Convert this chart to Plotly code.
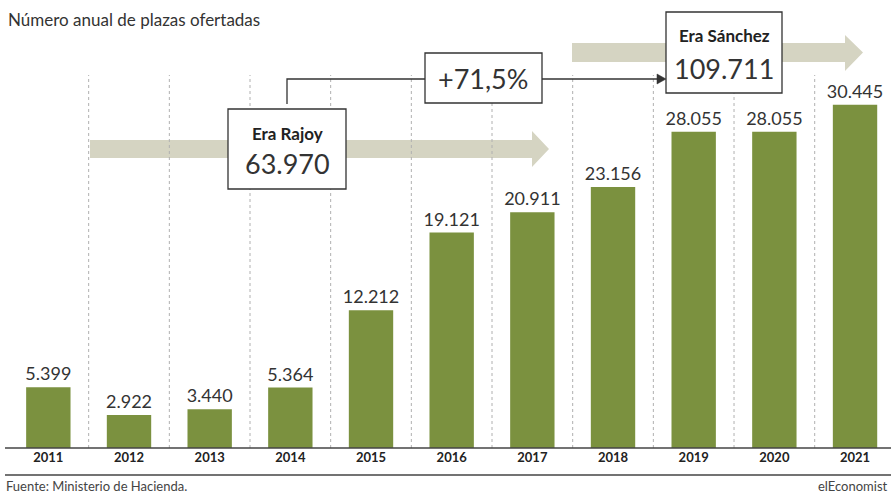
import plotly.graph_objects as go

# ---- data ----
years = ["2011", "2012", "2013", "2014", "2015", "2016", "2017", "2018", "2019", "2020", "2021"]
plazas = [5399, 2922, 3440, 5364, 12212, 19121, 20911, 23156, 28055, 28055, 30445]
subtitle = "Número anual de plazas ofertadas"
source = "Fuente: Ministerio de Hacienda."
brand = "elEconomist"
era_rajoy_label = "Era Rajoy"
era_rajoy_total = 63970
era_sanchez_label = "Era Sánchez"
era_sanchez_total = 109711
change_label = "+71,5%"

def es_num(v):
    return f"{v:,}".replace(",", ".")

# ---- geometry helpers (figure pixels -> paper) ----
W, H = 891, 494
ML, MR, MT, MB = 8, 0, 0, 46
PW, PH = W - ML - MR, H - MT - MB
YMAX = 39750

def px(x):
    return (x - ML) / PW

def py(y):
    return (H - MB - y) / PH

BAR = "#7b913f"
BEIGE = "#d5d4c2"
DARK = "#333333"
FONT = "Lato"

fig = go.Figure()
fig.add_trace(go.Bar(
    x=list(range(len(years))),
    y=plazas,
    width=0.55,
    marker=dict(color=BAR, line=dict(width=0)),
    text=[es_num(v) for v in plazas],
    textposition="outside",
    constraintext="none",
    textfont=dict(family=FONT, size=18, color=DARK),
    cliponaxis=False,
    hoverinfo="skip",
))

shapes = []
# dotted separators between years
grid_top = (H - MB - 75) / PH * YMAX
for i in range(len(years) - 1):
    shapes.append(dict(type="line", xref="x", yref="y", x0=i + 0.5, x1=i + 0.5,
                       y0=0, y1=grid_top, line=dict(color="#b0b0b0", width=1, dash="dot"),
                       layer="below"))

def arrow_path(x0, x_head, x_tip, yb0, yb1, yh0, yh1):
    ym = (yb0 + yb1) / 2
    pts = [(x0, yb0), (x_head, yb0), (x_head, yh0), (x_tip, ym), (x_head, yh1), (x_head, yb1), (x0, yb1)]
    return "M " + " L ".join(f"{px(a):.5f},{py(b):.5f}" for a, b in pts) + " Z"

shapes.append(dict(type="path", xref="paper", yref="paper",
                   path=arrow_path(90, 532, 549, 140, 158, 131, 167),
                   fillcolor=BEIGE, line=dict(width=0), layer="below"))
shapes.append(dict(type="path", xref="paper", yref="paper",
                   path=arrow_path(572, 845, 863, 43, 62, 35, 71),
                   fillcolor=BEIGE, line=dict(width=0), layer="below"))

def box(x0, y0, x1, y1):
    return dict(type="rect", xref="paper", yref="paper", x0=px(x0), x1=px(x1),
                y0=py(y1), y1=py(y0), fillcolor="white", line=dict(color=DARK, width=1.3))

shapes.append(box(228, 109, 346, 189))
shapes.append(box(425, 53, 542, 103))
shapes.append(box(666, 12, 782, 93))

# connector lines
def pline(pts):
    return "M " + " L ".join(f"{px(a):.5f},{py(b):.5f}" for a, b in pts)

shapes.append(dict(type="path", xref="paper", yref="paper",
                   path=pline([(287, 104), (287, 79), (425, 79)]),
                   line=dict(color=DARK, width=1.3)))
shapes.append(dict(type="path", xref="paper", yref="paper",
                   path=pline([(542, 79), (658, 79)]),
                   line=dict(color=DARK, width=1.3)))
shapes.append(dict(type="path", xref="paper", yref="paper",
                   path=pline([(657, 74), (666, 79), (657, 84)]) + " Z",
                   fillcolor=DARK, line=dict(color=DARK, width=0.5)))

# baseline and bottom rule
shapes.append(dict(type="line", xref="paper", yref="paper", x0=px(5), x1=px(891),
                   y0=py(448), y1=py(448), line=dict(color="#444", width=1.5)))
shapes.append(dict(type="line", xref="paper", yref="paper", x0=px(5), x1=px(891),
                   y0=py(475), y1=py(475), line=dict(color="#444", width=1.5)))

annotations = []

def txt(x, y, s, size, bold=False, anchor="center", color=DARK, family=FONT):
    annotations.append(dict(xref="paper", yref="paper", x=px(x), y=py(y), text=(f"<b>{s}</b>" if bold else s),
                            showarrow=False, xanchor=anchor, yanchor="middle",
                            font=dict(family=family, size=size, color=color)))

txt(6, 20, subtitle, 17, anchor="left")
txt(287, 133, era_rajoy_label, 17, bold=True, color="#222")
txt(287, 163, es_num(era_rajoy_total), 27)
txt(483, 78, change_label, 27)
txt(724, 35, era_sanchez_label, 17, bold=True, color="#222")
txt(724, 68, es_num(era_sanchez_total), 27)
txt(4, 486, source, 13, anchor="left", color="#444")
txt(890, 486, brand, 13, anchor="right", color="#444")

fig.update_layout(
    width=W, height=H,
    margin=dict(l=ML, r=MR, t=MT, b=MB),
    plot_bgcolor="white", paper_bgcolor="white",
    showlegend=False,
    shapes=shapes,
    annotations=annotations,
    xaxis=dict(range=[-0.5, 10.446], tickmode="array", tickvals=list(range(len(years))),
               ticktext=[f"<b>{y}</b>" for y in years], showgrid=False, zeroline=False,
               showline=False, ticks="", tickfont=dict(family=FONT, size=13, color="#222"),
               fixedrange=True),
    yaxis=dict(range=[0, YMAX], visible=False, fixedrange=True),
)

fig.write_html("out.html", config={"displayModeBar": False},
               post_script="document.body.style.margin='0';document.body.style.padding='0';")
